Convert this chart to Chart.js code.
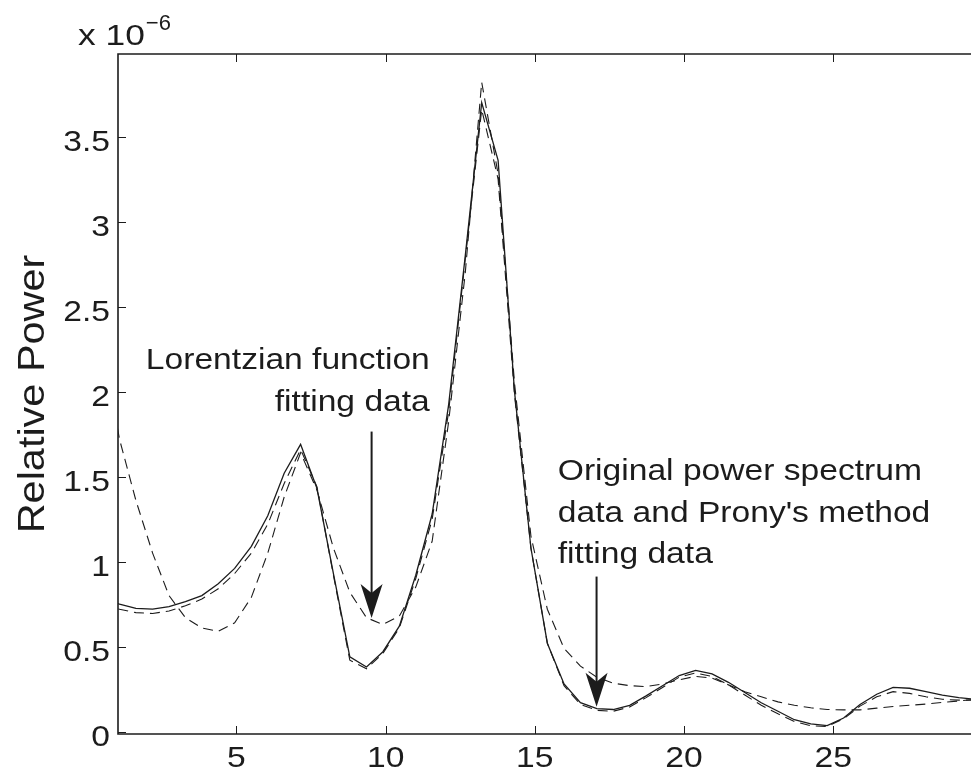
<!DOCTYPE html>
<html>
<head>
<meta charset="utf-8">
<script src="https://cdn.jsdelivr.net/npm/chart.js@4.4.1/dist/chart.umd.min.js"></script>
<style>
  html, body { margin: 0; padding: 0; background: #fff; }
  canvas { display: block; }
</style>
</head>
<body>
<canvas id="spectrumChart" width="971" height="770"></canvas>
<script>
// frequency bins (x axis)
const freq = [0.53, 1.08, 1.63, 2.19, 2.74, 3.29, 3.84, 4.39, 4.94, 5.50,
  6.05, 6.60, 7.15, 7.70, 8.25, 8.80, 9.36, 9.91, 10.46, 11.01,
  11.56, 12.11, 12.67, 13.22, 13.77, 14.32, 14.87, 15.42, 15.98, 16.53,
  17.08, 17.63, 18.18, 18.73, 19.28, 19.84, 20.39, 20.94, 21.49, 22.04,
  22.59, 23.15, 23.70, 24.25, 24.80, 25.35, 25.90, 26.46, 27.01, 27.56,
  28.11, 28.66, 29.21, 29.77];

// relative power, in units of 1e-6
const spectrum = [0.78, 0.75, 0.725, 0.72, 0.735, 0.765, 0.80, 0.87, 0.96, 1.09,
  1.27, 1.52, 1.69, 1.43, 0.93, 0.44, 0.38, 0.47, 0.62, 0.92,
  1.28, 1.92, 2.80, 3.70, 3.36, 2.00, 1.08, 0.52, 0.28, 0.17,
  0.135, 0.13, 0.155, 0.21, 0.27, 0.33, 0.36, 0.34, 0.29, 0.23,
  0.17, 0.12, 0.07, 0.045, 0.035, 0.08, 0.16, 0.22, 0.26, 0.255,
  0.235, 0.215, 0.20, 0.19];

const prony = [0.75, 0.72, 0.70, 0.695, 0.71, 0.74, 0.78, 0.84, 0.93, 1.05,
  1.22, 1.46, 1.66, 1.44, 0.92, 0.42, 0.37, 0.46, 0.61, 0.90,
  1.25, 1.88, 2.78, 3.66, 3.25, 1.98, 1.08, 0.52, 0.27, 0.16,
  0.125, 0.12, 0.145, 0.20, 0.26, 0.32, 0.345, 0.325, 0.275, 0.215,
  0.155, 0.105, 0.06, 0.035, 0.03, 0.075, 0.15, 0.205, 0.235, 0.225,
  0.205, 0.19, 0.185, 0.185];

const lorentz = [2.25, 1.72, 1.36, 1.05, 0.80, 0.67, 0.61, 0.59, 0.64, 0.79,
  1.05, 1.38, 1.64, 1.42, 1.08, 0.82, 0.67, 0.63, 0.68, 0.85,
  1.12, 1.82, 2.70, 3.82, 3.28, 2.05, 1.15, 0.72, 0.49, 0.385,
  0.32, 0.285, 0.27, 0.265, 0.28, 0.305, 0.325, 0.315, 0.275, 0.235,
  0.205, 0.175, 0.155, 0.14, 0.13, 0.128, 0.128, 0.138, 0.148, 0.155,
  0.162, 0.172, 0.18, 0.19];

const xTicks = [5, 10, 15, 20, 25];
const yTicks = [0, 0.5, 1, 1.5, 2, 2.5, 3, 3.5];
const yTitle = "Relative Power";

// annotations (data coordinates)
const lorentzText = ["Lorentzian function", "fitting data"];
const lorentzTextPos = { x: 11.48, y: [2.134, 1.887] };
const lorentzArrow = { x: 9.53, from: 1.765, to: 0.669 };
const pronyText = ["Original power spectrum", "data and Prony's method", "fitting data"];
const pronyTextPos = { x: 15.77, y: [1.481, 1.234, 0.992] };
const pronyArrow = { x: 17.07, from: 0.912, to: 0.147 };

const ink = "#1c1c1c";
const fontFamily = "'Liberation Sans', Arial, Helvetica, sans-serif";
const stretch = 1.12; // the original lettering is a bit wider than Arial

function toPoints(values) {
  return freq.map((f, i) => ({ x: f, y: values[i] }));
}

// text drawn with a small horizontal stretch
function wideText(ctx, text, x, y, align, sx) {
  ctx.save();
  ctx.translate(x, y);
  ctx.scale(sx, 1);
  ctx.textAlign = align;
  ctx.fillText(text, 0, 0);
  ctx.restore();
}

function drawArrow(ctx, x, y, arrow) {
  const px = x.getPixelForValue(arrow.x);
  const top = y.getPixelForValue(arrow.from);
  const tip = y.getPixelForValue(arrow.to);
  ctx.lineWidth = 2;
  ctx.beginPath();
  ctx.moveTo(px, top);
  ctx.lineTo(px, tip - 20);
  ctx.stroke();
  ctx.beginPath();
  ctx.moveTo(px, tip);
  ctx.lineTo(px - 11, tip - 34);
  ctx.lineTo(px, tip - 25);
  ctx.lineTo(px + 11, tip - 34);
  ctx.closePath();
  ctx.fill();
}

const extras = {
  id: "figureExtras",
  afterDatasetsDraw(chart) {
    const { ctx, chartArea: a, scales: { x, y } } = chart;
    ctx.save();
    ctx.strokeStyle = ink;
    ctx.fillStyle = ink;

    // axes box (right side is cut off in the original)
    ctx.lineWidth = 1.6;
    ctx.beginPath();
    ctx.moveTo(a.right + 2, a.top);
    ctx.lineTo(a.left, a.top);
    ctx.lineTo(a.left, a.bottom);
    ctx.lineTo(a.right + 2, a.bottom);
    ctx.stroke();

    // inward tick marks
    ctx.lineWidth = 1;
    ctx.beginPath();
    xTicks.forEach(v => {
      const px = Math.round(x.getPixelForValue(v)) + 0.5;
      ctx.moveTo(px, a.bottom); ctx.lineTo(px, a.bottom - 8);
      ctx.moveTo(px, a.top); ctx.lineTo(px, a.top + 8);
    });
    yTicks.forEach(v => {
      const py = Math.round(y.getPixelForValue(v)) + 0.5;
      ctx.moveTo(a.left, py); ctx.lineTo(a.left + 8, py);
    });
    ctx.stroke();

    // tick labels
    ctx.font = "30px " + fontFamily;
    ctx.textBaseline = "alphabetic";
    xTicks.forEach(v => {
      wideText(ctx, String(v), x.getPixelForValue(v), a.bottom + 33, "center", stretch);
    });
    yTicks.forEach(v => {
      wideText(ctx, String(v), a.left - 8, y.getPixelForValue(v) + 14, "right", stretch);
    });

    // y axis title
    ctx.save();
    ctx.font = "37px " + fontFamily;
    ctx.textBaseline = "middle";
    ctx.translate(34, (a.top + a.bottom) / 2);
    ctx.rotate(-Math.PI / 2);
    ctx.scale(stretch, 1);
    ctx.textAlign = "center";
    ctx.fillText(yTitle, 0, 0);
    ctx.restore();

    // arrows
    drawArrow(ctx, x, y, lorentzArrow);
    drawArrow(ctx, x, y, pronyArrow);

    // annotation text
    ctx.font = "30px " + fontFamily;
    lorentzText.forEach((t, i) => {
      wideText(ctx, t, x.getPixelForValue(lorentzTextPos.x), y.getPixelForValue(lorentzTextPos.y[i]), "right", stretch);
    });
    pronyText.forEach((t, i) => {
      wideText(ctx, t, x.getPixelForValue(pronyTextPos.x), y.getPixelForValue(pronyTextPos.y[i]), "left", stretch);
    });

    // exponent label
    ctx.font = "29px " + fontFamily;
    wideText(ctx, "x 10", 78, 45, "left", 1.22);
    const w = ctx.measureText("x 10").width * 1.22;
    ctx.font = "22px " + fontFamily;
    wideText(ctx, "\u22126", 78 + w + 1, 30, "left", 1);
    ctx.restore();
  }
};

new Chart(document.getElementById("spectrumChart"), {
  type: "line",
  data: {
    datasets: [
      {
        label: "Lorentzian fit",
        data: toPoints(lorentz),
        borderColor: ink,
        borderWidth: 1.1,
        borderDash: [10, 6],
        pointRadius: 0,
        tension: 0
      },
      {
        label: "Prony fit",
        data: toPoints(prony),
        borderColor: ink,
        borderWidth: 1.1,
        borderDash: [10, 6],
        pointRadius: 0,
        tension: 0
      },
      {
        label: "Power spectrum",
        data: toPoints(spectrum),
        borderColor: ink,
        borderWidth: 1.3,
        pointRadius: 0,
        tension: 0
      }
    ]
  },
  options: {
    responsive: false,
    animation: false,
    devicePixelRatio: 1,
    layout: { padding: { top: 54, right: 0, bottom: 0, left: 0 } },
    plugins: {
      legend: { display: false },
      tooltip: { enabled: false }
    },
    scales: {
      x: {
        type: "linear",
        min: 1.03,
        max: 29.62,
        afterBuildTicks: s => { s.ticks = xTicks.map(v => ({ value: v })); },
        afterFit: s => { s.height = 36; },
        grid: { display: false, drawTicks: false },
        border: { display: false },
        ticks: { display: false }
      },
      y: {
        min: -0.014,
        max: 3.986,
        afterBuildTicks: s => { s.ticks = yTicks.map(v => ({ value: v })); },
        afterFit: s => { s.width = 118; },
        grid: { display: false, drawTicks: false },
        border: { display: false },
        ticks: { display: false }
      }
    }
  },
  plugins: [extras]
});
</script>
</body>
</html>
